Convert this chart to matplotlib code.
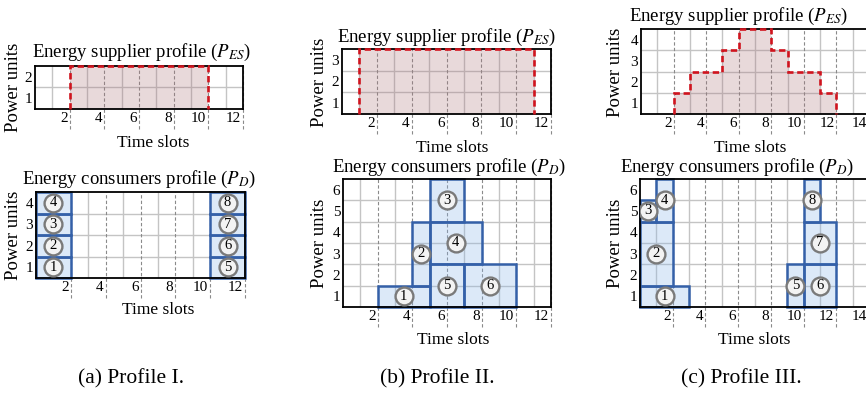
import matplotlib
matplotlib.use('Agg')
import matplotlib.pyplot as plt
from matplotlib.transforms import ScaledTranslation, blended_transform_factory

plt.rcParams['font.family'] = ['Liberation Serif', 'DejaVu Serif']
plt.rcParams['mathtext.fontset'] = 'stix'

# ---------------- data ----------------
ticks_ab = [2, 4, 6, 8, 10, 12]
ticks_c = [2, 4, 6, 8, 10, 12, 14]

# energy supplier profiles: first time slot and per-slot power units
es_a_start = 2
es_a = [2, 2, 2, 2, 2, 2, 2, 2]
es_b_start = 1
es_b = [3, 3, 3, 3, 3, 3, 3, 3, 3, 3]
es_c_start = 2
es_c = [1, 2, 2, 3, 4, 4, 3, 2, 2, 1]

# energy consumers: id, start slot, end slot, low unit, high unit
cons_a_id = [1, 2, 3, 4, 5, 6, 7, 8]
cons_a_start = [0, 0, 0, 0, 10, 10, 10, 10]
cons_a_end = [2, 2, 2, 2, 12, 12, 12, 12]
cons_a_low = [0, 1, 2, 3, 0, 1, 2, 3]
cons_a_high = [1, 2, 3, 4, 1, 2, 3, 4]

cons_b_id = [1, 2, 3, 4, 5, 6]
cons_b_start = [2, 4, 5, 5, 5, 7]
cons_b_end = [5, 5, 7, 8, 7, 10]
cons_b_low = [0, 1, 4, 2, 0, 0]
cons_b_high = [1, 4, 6, 4, 2, 2]

cons_c_id = [1, 2, 3, 4, 5, 6, 7, 8]
cons_c_start = [0, 0, 0, 1, 9, 10, 10, 10]
cons_c_end = [3, 2, 1, 2, 10, 12, 12, 11]
cons_c_low = [0, 1, 4, 4, 0, 0, 2, 4]
cons_c_high = [1, 4, 5, 6, 2, 2, 4, 6]

captions = ['(a) Profile I.', '(b) Profile II.', '(c) Profile III.']

# ---------------- style ----------------
W, H = 866, 397
fig = plt.figure(figsize=(W / 100, H / 100), dpi=100)

GRID = '#c4c4c4'
DASHG = '#8a8a8a'
RED = '#d0141e'
PINK = (0.68, 0.47, 0.49, 0.28)
BLUE_E = '#3460a8'
BLUE_F = (0.55, 0.72, 0.92, 0.30)


def px_axes(l, t, r, b):
    return fig.add_axes([l / W, 1 - b / H, (r - l) / W, (b - t) / H])


def setup(ax, xmax, ymax, xticks, hpx):
    ax.set_xlim(0, xmax)
    ax.set_ylim(0, ymax)
    for s in ax.spines.values():
        s.set_linewidth(1.3)
        s.set_color('black')
        s.set_zorder(3)
    for x in range(1, xmax):
        if x not in xticks:
            ax.axvline(x, color=GRID, lw=1.0, zorder=0.5)
    for y in range(1, ymax):
        ax.axhline(y, color=GRID, lw=1.0, zorder=0.5)
    tr = blended_transform_factory(ax.transData, ax.transAxes)
    ext = 20 / hpx
    for x in xticks:
        ax.plot([x, x], [-ext, 1], transform=tr, color=DASHG, lw=0.8,
                ls=(0, (3, 2)), clip_on=False, zorder=0.6)
    ax.set_xticks(xticks)
    ax.set_xticklabels([str(t) for t in xticks], ha='right', fontsize=11)
    ax.set_yticks([k - 0.5 for k in range(1, ymax + 1)])
    ax.set_yticklabels([str(k) for k in range(1, ymax + 1)], fontsize=11)
    ax.tick_params(length=0, pad=2)
    off = ScaledTranslation(-2 / 100, 0, fig.dpi_scale_trans)
    for lab in ax.get_xticklabels():
        lab.set_transform(lab.get_transform() + off)


def supplier(ax, start, vals):
    edges = list(range(start, start + len(vals) + 1))
    ax.stairs(vals, edges, baseline=0, fill=True, color=PINK, lw=0, zorder=1)
    ax.stairs(vals, edges, baseline=0, fill=False, color=RED, lw=1.9,
              ls=(0, (2.4, 1.4)), zorder=4, clip_on=False)


def consumers(ax, ids, st, en, lo, hi):
    widths = [e - s for s, e in zip(st, en)]
    heights = [h - l for l, h in zip(lo, hi)]
    ax.bar(st, heights, width=widths, bottom=lo, align='edge',
           facecolor=BLUE_F, edgecolor=BLUE_E, linewidth=1.8, zorder=2,
           clip_on=False)
    xc = [(s + e) / 2 for s, e in zip(st, en)]
    yc = [(l + h) / 2 for l, h in zip(lo, hi)]
    ax.scatter(xc, yc, s=165, facecolor='#f3f3f3', edgecolor='#7a7a7a',
               linewidths=1.7, zorder=5)
    for i, x, y in zip(ids, xc, yc):
        ax.text(x, y, str(i), ha='center', va='center', fontsize=10.5,
                zorder=6)


def ftext(x, y, s, **kw):
    fig.text(x / W, 1 - y / H, s, ha='center', va='center', **kw)


TFS = 13.5
YFS = 13.5
sup_title = 'Energy supplier profile ($P_{ES}$)'
con_title = 'Energy consumers profile ($P_{D}$)'

# ---- (a) ----
ax = px_axes(35, 66, 243, 109)
setup(ax, 12, 2, ticks_ab, 43)
supplier(ax, es_a_start, es_a)
ftext(142, 52, sup_title, fontsize=TFS)
ftext(14, 87, 'Power units', rotation=90, fontsize=YFS)
ftext(153, 143, 'Time slots', fontsize=12.5)

ax = px_axes(36, 192, 245, 278)
setup(ax, 12, 4, ticks_ab, 86)
consumers(ax, cons_a_id, cons_a_start, cons_a_end, cons_a_low, cons_a_high)
ftext(139, 179, con_title, fontsize=TFS)
ftext(14, 235, 'Power units', rotation=90, fontsize=YFS)
ftext(158, 310, 'Time slots', fontsize=12.5)

# ---- (b) ----
ax = px_axes(342, 49, 551, 114)
setup(ax, 12, 3, ticks_ab, 65)
supplier(ax, es_b_start, es_b)
ftext(447, 37, sup_title, fontsize=TFS)
ftext(319, 82, 'Power units', rotation=90, fontsize=YFS)
ftext(452, 148, 'Time slots', fontsize=12.5)

ax = px_axes(343, 179, 551, 307)
setup(ax, 12, 6, ticks_ab, 128)
consumers(ax, cons_b_id, cons_b_start, cons_b_end, cons_b_low, cons_b_high)
ftext(449, 167, con_title, fontsize=TFS)
ftext(320, 243, 'Power units', rotation=90, fontsize=YFS)
ftext(453, 340, 'Time slots', fontsize=12.5)

# ---- (c) ----
ax = px_axes(641, 29, 869, 114)
setup(ax, 14, 4, ticks_c, 85)
supplier(ax, es_c_start, es_c)
ftext(739, 16, sup_title, fontsize=TFS)
ftext(616, 72, 'Power units', rotation=90, fontsize=YFS)
ftext(750, 148, 'Time slots', fontsize=12.5)

ax = px_axes(640, 179, 869, 307)
setup(ax, 14, 6, ticks_c, 128)
consumers(ax, cons_c_id, cons_c_start, cons_c_end, cons_c_low, cons_c_high)
ftext(737, 167, con_title, fontsize=TFS)
ftext(616, 243, 'Power units', rotation=90, fontsize=YFS)
ftext(754, 340, 'Time slots', fontsize=12.5)

for cx, cap in zip([131, 437, 741], captions):
    ftext(cx, 379, cap, fontsize=15.5)

fig.savefig('out.png', dpi=100)
